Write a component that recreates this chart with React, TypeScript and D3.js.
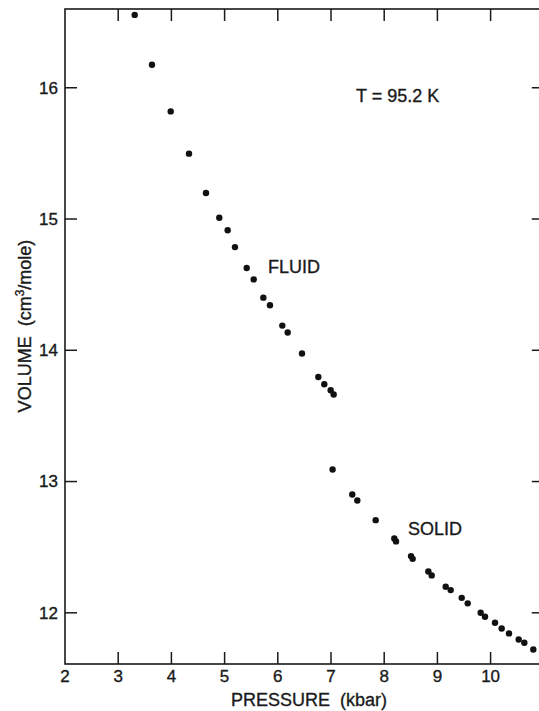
import React from "react";
import * as d3 from "d3";

// Pressure (kbar) and molar volume (cm3/mole) at T = 95.2 K
const pressure = [
  3.31, 3.635, 3.987, 4.331, 4.65, 4.9, 5.058, 5.195, 5.415, 5.547, 5.728, 5.853,
  6.085, 6.186, 6.455, 6.762, 6.874, 6.994, 7.05, 7.03, 7.4, 7.495, 7.84, 8.19,
  8.222, 8.504, 8.535, 8.83, 8.893, 9.156, 9.25, 9.457, 9.57, 9.813, 9.895,
  10.083, 10.208, 10.346, 10.528, 10.634, 10.803,
];
const volume = [
  16.555, 16.175, 15.82, 15.498, 15.198, 15.01, 14.914, 14.786, 14.627, 14.54,
  14.401, 14.343, 14.188, 14.135, 13.975, 13.797, 13.741, 13.696, 13.663, 13.092,
  12.901, 12.856, 12.706, 12.566, 12.544, 12.432, 12.411, 12.315, 12.285, 12.198,
  12.173, 12.114, 12.072, 12.0, 11.97, 11.924, 11.881, 11.843, 11.797, 11.772,
  11.721,
];
const xTicks = [2, 3, 4, 5, 6, 7, 8, 9, 10];
const yTicks = [12, 13, 14, 15, 16];
const phaseLabels = ["FLUID", "SOLID"];
const phaseAt = [
  [5.816, 14.589],
  [8.447, 12.593],
];

const W = 539;
const H = 711;
const FONT = "'Liberation Sans', Arial, sans-serif";
const INK = "#1a1a1a";

export default function App() {
  const x = d3.scaleLinear().domain([2, 11]).range([65, 543.8]);
  const y = d3.scaleLinear().domain([11.61, 16.6]).range([664, 9]);
  const [x0, x1] = x.range();
  const [yb, yt] = y.range();
  const tick = 12;
  const txt = { fill: INK, stroke: INK, strokeWidth: 0.35 };

  return (
    <svg
      width={W}
      height={H}
      style={{ position: "absolute", left: 0, top: 0, display: "block", background: "#fff" }}
      fontFamily={FONT}
    >
      {/* frame */}
      <rect x={x0} y={yt} width={x1 - x0} height={yb - yt} fill="none" stroke={INK} strokeWidth={1.6} />

      {/* x ticks, bottom and top, pointing inward */}
      {xTicks.map((t) => (
        <g key={"xt" + t}>
          {t !== 2 && <line x1={x(t)} x2={x(t)} y1={yb} y2={yb - tick} stroke={INK} strokeWidth={1.5} />}
          {t !== 2 && <line x1={x(t)} x2={x(t)} y1={yt} y2={yt + tick} stroke={INK} strokeWidth={1.5} />}
          <text x={x(t)} y={682} textAnchor="middle" fontSize={17} {...txt}>
            {t}
          </text>
        </g>
      ))}

      {/* y ticks, left and right, pointing inward */}
      {yTicks.map((t) => (
        <g key={"yt" + t}>
          <line x1={x0} x2={x0 + tick} y1={y(t)} y2={y(t)} stroke={INK} strokeWidth={1.5} />
          <line x1={x1} x2={x1 - tick} y1={y(t)} y2={y(t)} stroke={INK} strokeWidth={1.5} />
          <text x={58} y={y(t)} dy="0.35em" textAnchor="end" fontSize={17} {...txt}>
            {t}
          </text>
        </g>
      ))}

      {/* data points */}
      {pressure.map((p, i) => (
        <circle key={"pt" + i} cx={x(p)} cy={y(volume[i])} r={3.2} fill="#111" />
      ))}

      {/* annotations */}
      <text x={356} y={102} fontSize={18} {...txt}>
        T = 95.2 K
      </text>
      {phaseLabels.map((lab, i) => (
        <text key={lab} x={x(phaseAt[i][0])} y={y(phaseAt[i][1])} fontSize={18} {...txt}>
          {lab}
        </text>
      ))}

      {/* axis titles */}
      <text x={309} y={706} textAnchor="middle" fontSize={18} {...txt}>
        PRESSURE{"\u00a0\u00a0"}(kbar)
      </text>
      <text transform="translate(31,326) rotate(-90)" textAnchor="middle" fontSize={18} {...txt}>
        VOLUME{"\u00a0\u00a0"}(cm
        <tspan dy={-7} fontSize={12}>
          3
        </tspan>
        <tspan dy={7}>/mole)</tspan>
      </text>
    </svg>
  );
}
